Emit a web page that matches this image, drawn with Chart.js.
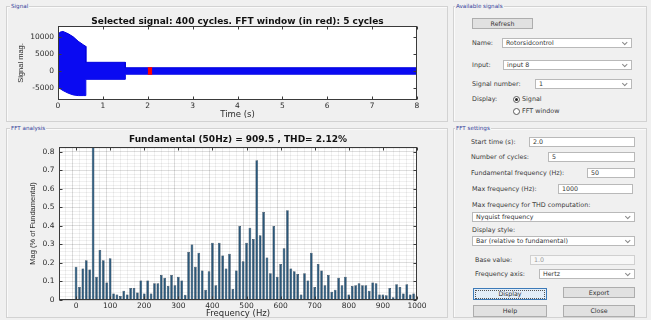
<!DOCTYPE html>
<html>
<head>
<meta charset="utf-8">
<script src="https://cdn.jsdelivr.net/npm/chart.js@4.4.1/dist/chart.umd.min.js"></script>
<style>
  html, body { margin:0; padding:0; }
  body { width:651px; height:320px; overflow:hidden; background:#f0f0f0; font-family:"DejaVu Sans", sans-serif; }
  #fig { position:relative; width:651px; height:320px; }
  .panel { position:absolute; box-sizing:border-box; border:1px solid #d2d2d2; box-shadow:inset 1px 1px 0 #fafafa; }
  .ptitle { position:absolute; font-size:5.6px; line-height:7px; color:#34409a; background:#f0f0f0; padding:0 1px; white-space:nowrap; }
  .lbl { position:absolute; font-size:6.4px; line-height:8px; color:#3a3a3a; white-space:nowrap; }
  .edit, .drop { position:absolute; box-sizing:border-box; background:#fff; border:1px solid #b9b9b9; font-size:6.3px; color:#333; padding-left:3px; white-space:nowrap; }
  .drop::after { content:""; position:absolute; right:5px; top:50%; width:2.5px; height:2.5px; border-right:1px solid #8a8a8a; border-bottom:1px solid #8a8a8a; transform:translateY(-75%) rotate(45deg); }
  .btn { position:absolute; box-sizing:border-box; background:#e1e1e1; border:1px solid #adadad; font-size:6.3px; color:#333; text-align:center; }
  .btn.focus { background:#e3eef9; border:1px solid #3d7ab8; }
  .btn.focus span { position:absolute; left:1px; top:0.5px; right:1px; bottom:0.5px; border:1px dotted #555; }
  .radio { position:absolute; width:7px; height:7px; border:1px solid #5a5a5a; border-radius:50%; box-sizing:border-box; background:#fff; }
  .radio.on::after { content:""; position:absolute; left:1px; top:1px; width:3px; height:3px; border-radius:50%; background:#222; }
  canvas { position:absolute; }
</style>
</head>
<body>
<div id="fig">
  <!-- panels -->
  <div class="panel" style="left:6px;top:6px;width:442px;height:116px"></div>
  <div class="ptitle" style="left:10px;top:3px">Signal</div>
  <div class="panel" style="left:453px;top:6px;width:194px;height:116px"></div>
  <div class="ptitle" style="left:455px;top:3px">Available signals</div>
  <div class="panel" style="left:6px;top:128px;width:442px;height:190px"></div>
  <div class="ptitle" style="left:10px;top:125px">FFT analysis</div>
  <div class="panel" style="left:453px;top:128px;width:194px;height:190px"></div>
  <div class="ptitle" style="left:455px;top:125px">FFT settings</div>

  <!-- available signals -->
  <div class="btn" style="left:472px;top:18px;width:61px;height:11px;line-height:9px">Refresh</div>
  <div class="lbl" style="left:472px;top:39px">Name:</div>
  <div class="drop" style="left:502px;top:38px;width:130px;height:10px;line-height:8px">Rotorsidcontrol</div>
  <div class="lbl" style="left:472px;top:61px">Input:</div>
  <div class="drop" style="left:503px;top:60px;width:129px;height:10px;line-height:8px">input 8</div>
  <div class="lbl" style="left:472px;top:80px">Signal number:</div>
  <div class="drop" style="left:535px;top:79px;width:97px;height:10px;line-height:8px">1</div>
  <div class="lbl" style="left:472px;top:95px">Display:</div>
  <div class="radio on" style="left:513px;top:96px"></div>
  <div class="lbl" style="left:522px;top:95px">Signal</div>
  <div class="radio" style="left:513px;top:108px"></div>
  <div class="lbl" style="left:522px;top:107px">FFT window</div>

  <!-- FFT settings -->
  <div class="lbl" style="left:471px;top:138px">Start time (s):</div>
  <div class="edit" style="left:529px;top:137px;width:106px;height:10px;line-height:8px">2.0</div>
  <div class="lbl" style="left:471px;top:153px">Number of cycles:</div>
  <div class="edit" style="left:548px;top:152px;width:87px;height:10px;line-height:8px">5</div>
  <div class="lbl" style="left:471px;top:169px">Fundamental frequency (Hz):</div>
  <div class="edit" style="left:587px;top:168px;width:48px;height:10px;line-height:8px">50</div>
  <div class="lbl" style="left:472px;top:185px">Max frequency (Hz):</div>
  <div class="edit" style="left:558px;top:184px;width:75px;height:10px;line-height:8px">1000</div>
  <div class="lbl" style="left:472px;top:201px">Max frequency for THD computation:</div>
  <div class="drop" style="left:472px;top:212px;width:163px;height:10px;line-height:8px">Nyquist frequency</div>
  <div class="lbl" style="left:472px;top:226px">Display style:</div>
  <div class="drop" style="left:472px;top:236px;width:163px;height:10px;line-height:8px">Bar (relative to fundamental)</div>
  <div class="lbl" style="left:475px;top:256px">Base value:</div>
  <div class="edit" style="left:530px;top:255px;width:105px;height:10px;line-height:8px;background:#f7f7f7;color:#9a9a9a;border-color:#d0d0d0">1.0</div>
  <div class="lbl" style="left:475px;top:270px">Frequency axis:</div>
  <div class="drop" style="left:539px;top:269px;width:96px;height:10px;line-height:8px">Hertz</div>
  <div class="btn focus" style="left:473px;top:288px;width:74px;height:12px;line-height:10px"><span></span>Display</div>
  <div class="btn" style="left:563px;top:287px;width:72px;height:11px;line-height:9px">Export</div>
  <div class="btn" style="left:473px;top:305px;width:74px;height:12px;line-height:10px">Help</div>
  <div class="btn" style="left:563px;top:305px;width:72px;height:12px;line-height:10px">Close</div>

  <canvas id="sigChart" width="440" height="122" style="left:0;top:0;width:440px;height:122px"></canvas>
  <canvas id="fftChart" width="440" height="198" style="left:0;top:122px;width:440px;height:198px"></canvas>
</div>

<script>
// ---- recorded signal: upper / lower envelope of the waveform ----
const sigTime  = [0, 0.01, 0.05, 0.11, 0.23, 0.34, 0.45, 0.56, 0.62, 0.62, 1.50, 1.50, 8.00];
const sigUpper = [11200, 11000, 11500, 11700, 11000, 10100, 8800, 7800, 7300, 2600, 2600, 1000, 1000];
const sigLower = [-8300, -4700, -5200, -5700, -6500, -7000, -7200, -7200, -7200, -2400, -2400, -900, -900];
const totalCycles = 400;

// ---- FFT window ----
const winStart = 2.0;          // s
const winCycles = 5;
const fundHz = 50;
const winEnvelope = [1000, -900];
const fundMag = 909.5;
const thdPct = 2.12;

// ---- axis ticks ----
const timeTicks = [0, 1, 2, 3, 4, 5, 6, 7, 8];
const sigTicks  = [-5000, 0, 5000, 10000];
const freqTicks = [0, 100, 200, 300, 400, 500, 600, 700, 800, 900, 1000];
const magTicks  = [0, 0.1, 0.2, 0.3, 0.4, 0.5, 0.6, 0.7, 0.8];

// ---- harmonic spectrum (% of fundamental) ----
const fftFreq = [
  0, 10, 20, 30, 40, 50, 60, 70, 80, 90,
  100, 110, 120, 130, 140, 150, 160, 170, 180, 190,
  200, 210, 220, 230, 240, 250, 260, 270, 280, 290,
  300, 310, 320, 330, 340, 350, 360, 370, 380, 390,
  400, 410, 420, 430, 440, 450, 460, 470, 480, 490,
  500, 510, 520, 530, 540, 550, 560, 570, 580, 590,
  600, 610, 620, 630, 640, 650, 660, 670, 680, 690,
  700, 710, 720, 730, 740, 750, 760, 770, 780, 790,
  800, 810, 820, 830, 840, 850, 860, 870, 880, 890,
  900, 910, 920, 930, 940, 950, 960, 970, 980, 990,
  1000
];
const fftMag = [
  0.18, 0.07, 0.17, 0.215, 0.165, 100, 0.125, 0.27, 0.215, 0.095,
  0.225, 0.035, 0.03, 0.022, 0.05, 0.03, 0.065, 0.065, 0.04, 0.105,
  0.035, 0.105, 0.035, 0.09, 0.09, 0.135, 0.12, 0.075, 0.135, 0.08,
  0.125, 0.105, 0.028, 0.26, 0.30, 0.18, 0.255, 0.16, 0.055, 0.155,
  0.31, 0.08, 0.31, 0.24, 0.17, 0.25, 0.06, 0.16, 0.40, 0.21,
  0.31, 0.39, 0.33, 0.755, 0.35, 0.475, 0.23, 0.145, 0.40, 0.125,
  0.195, 0.28, 0.485, 0.17, 0.155, 0.14, 0.03, 0.145, 0.105, 0.255,
  0.07, 0.195, 0.16, 0.08, 0.135, 0.045, 0.055, 0.12, 0.08, 0.125,
  0.03, 0.075, 0.08, 0.09, 0.08, 0.08, 0.05, 0.095, 0.09, 0.03,
  0.03, 0.025, 0.065, 0.015, 0.085, 0.07, 0.035, 0.085, 0.03, 0.035,
  0.03
];

const tickFont  = { family: 'DejaVu Sans', size: 7.5 };
const titleFont = { family: 'DejaVu Sans', weight: 'bold', size: 9, lineHeight: 1 };
const textColor = '#2b2b2b';

// white axes background, box frame and inward tick marks on all four sides
const axesBox = {
  id: 'axesBox',
  beforeDraw(chart) {
    const { ctx, chartArea: a } = chart;
    ctx.save();
    ctx.fillStyle = '#ffffff';
    ctx.fillRect(a.left, a.top, a.right - a.left, a.bottom - a.top);
    ctx.restore();
  },
  afterDraw(chart, args, opts) {
    const { ctx, chartArea: a, scales } = chart;
    const L = opts.len || 3;
    const l = Math.round(a.left) + 0.5, r = Math.round(a.right) - 0.5;
    const t = Math.round(a.top) + 0.5, b = Math.round(a.bottom) - 0.5;
    ctx.save();
    ctx.strokeStyle = '#3a3a3a';
    ctx.lineWidth = 1;
    ctx.beginPath();
    opts.xTicks.forEach(v => {
      const px = Math.round(scales.x.getPixelForValue(v)) + 0.5;
      ctx.moveTo(px, b); ctx.lineTo(px, b - L);
      ctx.moveTo(px, t); ctx.lineTo(px, t + L);
    });
    opts.yTicks.forEach(v => {
      const py = Math.round(scales.y.getPixelForValue(v)) + 0.5;
      ctx.moveTo(l, py); ctx.lineTo(l + L, py);
      ctx.moveTo(r, py); ctx.lineTo(r - L, py);
    });
    ctx.stroke();
    ctx.strokeRect(l, t, r - l, b - t);
    ctx.restore();
  }
};

function fixSize(prop, size) {
  return s => { s[prop] = size; s.paddingLeft = 0; s.paddingRight = 0; s.paddingTop = 0; s.paddingBottom = 0; };
}
function majorTicks(list) {
  return s => { s.ticks = list.map(v => ({ value: v, lab: String(v) })); };
}
// major ticks plus subdivisions for the minor grid
function gridTicks(list, sub, lo, hi) {
  return s => {
    const step = (list[1] - list[0]) / sub;
    const out = [];
    for (let k = Math.ceil(lo / step - 1e-9); k * step <= hi + 1e-9; k++) {
      const v = k * step;
      const m = list.find(x => Math.abs(x - v) < step * 1e-3);
      out.push(m !== undefined ? { value: m, lab: String(m), major: true } : { value: v, lab: '', major: false });
    }
    s.ticks = out;
  };
}
const labelOf = (v, i, ticks) => ticks[i].lab;

// ---- signal plot ----
const winEnd = winStart + winCycles / fundHz;
new Chart(document.getElementById('sigChart'), {
  type: 'line',
  data: {
    datasets: [
      { data: [{ x: winStart, y: winEnvelope[0] }, { x: winEnd, y: winEnvelope[0] }],
        borderColor: '#ff0000', backgroundColor: '#ff0000', borderWidth: 1, fill: '+1', pointRadius: 0, order: 0 },
      { data: [{ x: winStart, y: winEnvelope[1] }, { x: winEnd, y: winEnvelope[1] }],
        borderColor: '#ff0000', borderWidth: 1, fill: false, pointRadius: 0, order: 0 },
      { data: sigTime.map((t, i) => ({ x: t, y: sigUpper[i] })),
        borderColor: '#0000dd', backgroundColor: '#0a0af2', borderWidth: 1, fill: '+1', pointRadius: 0, tension: 0, order: 1 },
      { data: sigTime.map((t, i) => ({ x: t, y: sigLower[i] })),
        borderColor: '#0000dd', borderWidth: 1, fill: false, pointRadius: 0, tension: 0, order: 1 }
    ]
  },
  options: {
    responsive: false, animation: false, devicePixelRatio: 1,
    layout: { padding: { left: 0, right: 23, top: 0, bottom: 0 } },
    plugins: {
      legend: { display: false }, tooltip: { enabled: false },
      title: { display: true, fullSize: false, color: '#111',
        text: `Selected signal: ${totalCycles} cycles. FFT window (in red): ${winCycles} cycles`,
        font: titleFont, padding: { top: 17, bottom: 0 } },
      axesBox: { xTicks: timeTicks, yTicks: sigTicks, len: 3 }
    },
    scales: {
      x: { type: 'linear', min: 0, max: 8,
        afterFit: fixSize('height', 22), afterBuildTicks: majorTicks(timeTicks),
        grid: { display: false, drawTicks: false }, border: { display: false },
        ticks: { callback: labelOf, padding: 2, color: textColor, font: tickFont, maxRotation: 0, autoSkip: false },
        title: { display: true, text: 'Time (s)', color: textColor, font: { family: 'DejaVu Sans', size: 8.5, lineHeight: 1.2 }, padding: { top: 0, bottom: 2.5 } } },
      y: { type: 'linear', min: -8500, max: 13300,
        afterFit: fixSize('width', 58), afterBuildTicks: majorTicks(sigTicks),
        grid: { display: false, drawTicks: false }, border: { display: false },
        ticks: { callback: labelOf, padding: 4, color: textColor, font: tickFont, autoSkip: false },
        title: { display: true, text: 'Signal mag.', color: textColor, font: { family: 'Liberation Sans', size: 7.5, lineHeight: 1.2 }, padding: { top: 16.5, bottom: 0 } } }
    }
  },
  plugins: [axesBox]
});

// ---- FFT bar plot ----
const gridColor = c => (c.tick && c.tick.major) ? 'rgba(0,0,0,0.13)' : 'rgba(0,0,0,0.06)';
new Chart(document.getElementById('fftChart'), {
  type: 'bar',
  data: {
    datasets: [{
      data: fftFreq.map((f, i) => ({ x: f, y: fftMag[i] })),
      backgroundColor: '#2a5779', borderColor: '#132538', borderWidth: 0.5,
      barPercentage: 0.78, categoryPercentage: 1
    }]
  },
  options: {
    responsive: false, animation: false, devicePixelRatio: 1,
    layout: { padding: { left: 0, right: 23, top: 0, bottom: 0 } },
    plugins: {
      legend: { display: false }, tooltip: { enabled: false },
      title: { display: true, fullSize: false, color: '#111',
        text: `Fundamental (${fundHz}Hz) = ${fundMag} , THD= ${thdPct}%`,
        font: titleFont, padding: { top: 13.5, bottom: 2.5 } },
      axesBox: { xTicks: freqTicks, yTicks: magTicks, len: 3 }
    },
    scales: {
      x: { type: 'linear', min: -50, max: 1000, offset: false,
        afterFit: fixSize('height', 20), afterBuildTicks: gridTicks(freqTicks, 5, -50, 1000),
        grid: { color: gridColor, lineWidth: 1, drawTicks: false }, border: { display: false },
        ticks: { callback: labelOf, padding: 2, color: textColor, font: tickFont, maxRotation: 0, autoSkip: false },
        title: { display: true, text: 'Frequency (Hz)', color: textColor, font: { family: 'DejaVu Sans', size: 8.5, lineHeight: 1.2 }, padding: { top: 0, bottom: 1 } } },
      y: { type: 'linear', min: 0, max: 0.827,
        afterFit: fixSize('width', 59), afterBuildTicks: gridTicks(magTicks, 5, 0, 0.827),
        grid: { color: gridColor, lineWidth: 1, drawTicks: false }, border: { display: false },
        ticks: { callback: labelOf, padding: 4.5, color: textColor, font: tickFont, autoSkip: false },
        title: { display: true, text: 'Mag (% of Fundamental)', color: textColor, font: { family: 'Liberation Sans', size: 7.5, lineHeight: 1.2 }, padding: { top: 28, bottom: 0 } } }
    }
  },
  plugins: [axesBox]
});
</script>
</body>
</html>
